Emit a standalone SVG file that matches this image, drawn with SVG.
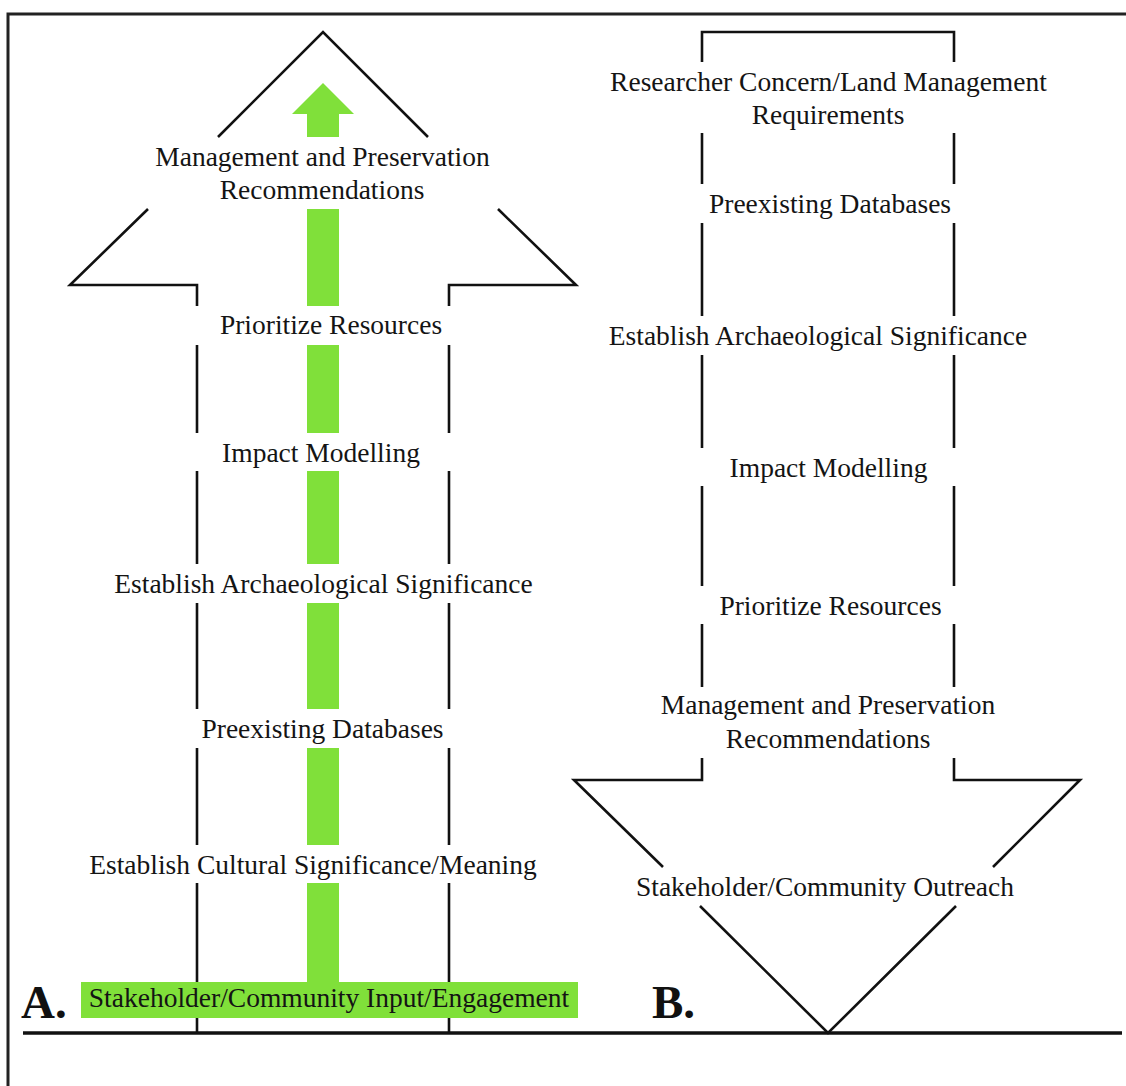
<svg xmlns="http://www.w3.org/2000/svg" width="1126" height="1086" viewBox="0 0 1126 1086">
<defs>
<style>
.ln{stroke:#111;stroke-width:2.6;fill:none;stroke-linecap:butt;stroke-linejoin:miter}
.fr{stroke:#222;stroke-width:3;fill:none}
.tx{font-family:"Liberation Serif","Times New Roman",serif;font-size:27.5px;fill:#141414;text-anchor:middle}
.lb{font-family:"Liberation Serif","Times New Roman",serif;font-size:47px;font-weight:bold;fill:#111}
.gr{fill:#80E03A}
</style>
</defs>
<rect width="1126" height="1086" fill="#fff"/>
<g id="frame">
<path class="fr" d="M8,1086 V14 H1126"/>
<line x1="23" y1="1033" x2="1122" y2="1033" stroke="#111" stroke-width="3.5"/>
</g>
<g id="arrowA-outline">
<path class="ln" d="M218,137 L323,32 L428,137"/>
<path class="ln" d="M148,209 L70,285 H197 V306"/>
<path class="ln" d="M498,209 L576,285 H449 V306"/>
<path class="ln" d="M197,345 V433 M197,471 V564 M197,603 V709 M197,748 V845 M197,883 V1033"/>
<path class="ln" d="M449,345 V433 M449,471 V564 M449,603 V709 M449,748 V845 M449,883 V1033"/>
</g>
<g id="arrowB-outline">
<path class="ln" d="M702,62 V32 H954 V62"/>
<path class="ln" d="M702,133 V184 M702,223 V316 M702,355 V448 M702,486 V586 M702,624 V687"/>
<path class="ln" d="M954,133 V184 M954,223 V316 M954,355 V448 M954,486 V586 M954,624 V687"/>
<path class="ln" d="M702,758 V780 H574 L663,867"/>
<path class="ln" d="M954,758 V780 H1080 L993,867"/>
<path class="ln" d="M700,906 L828,1033 L956,906"/>
</g>
<g id="connectors">
<polygon class="gr" points="323,83 354,114 339,114 339,137 307,137 307,114 292,114"/>
<rect class="gr" x="307" y="209" width="32" height="97"/>
<rect class="gr" x="307" y="345" width="32" height="88"/>
<rect class="gr" x="307" y="471" width="32" height="93"/>
<rect class="gr" x="307" y="603" width="32" height="106"/>
<rect class="gr" x="307" y="748" width="32" height="97"/>
<rect class="gr" x="307" y="883" width="32" height="100"/>
</g>
<g id="nodeA-management"><text class="tx" x="322.5" y="166">Management and Preservation</text><text class="tx" x="322" y="199">Recommendations</text></g>
<g id="nodeA-prioritize"><text class="tx" x="331" y="334">Prioritize Resources</text></g>
<g id="nodeA-impact"><text class="tx" x="321" y="462">Impact Modelling</text></g>
<g id="nodeA-archaeological"><text class="tx" x="323.5" y="593">Establish Archaeological Significance</text></g>
<g id="nodeA-databases"><text class="tx" x="322.5" y="738">Preexisting Databases</text></g>
<g id="nodeA-cultural"><text class="tx" x="313" y="874">Establish Cultural Significance/Meaning</text></g>
<g id="nodeA-stakeholder">
<rect class="gr" x="81" y="982" width="497" height="36"/>
<text class="tx" x="329" y="1007">Stakeholder/Community Input/Engagement</text>
</g>
<g id="labelA"><text class="lb" x="21" y="1018">A.</text></g>
<g id="nodeB-researcher"><text class="tx" x="828.5" y="91">Researcher Concern/Land Management</text><text class="tx" x="828" y="124">Requirements</text></g>
<g id="nodeB-databases"><text class="tx" x="830" y="213">Preexisting Databases</text></g>
<g id="nodeB-archaeological"><text class="tx" x="818" y="345">Establish Archaeological Significance</text></g>
<g id="nodeB-impact"><text class="tx" x="828.5" y="477">Impact Modelling</text></g>
<g id="nodeB-prioritize"><text class="tx" x="830.5" y="615">Prioritize Resources</text></g>
<g id="nodeB-management"><text class="tx" x="828" y="714">Management and Preservation</text><text class="tx" x="828" y="748">Recommendations</text></g>
<g id="nodeB-outreach"><text class="tx" x="825" y="896">Stakeholder/Community Outreach</text></g>
<g id="labelB"><text class="lb" x="652" y="1018">B.</text></g>
</svg>
